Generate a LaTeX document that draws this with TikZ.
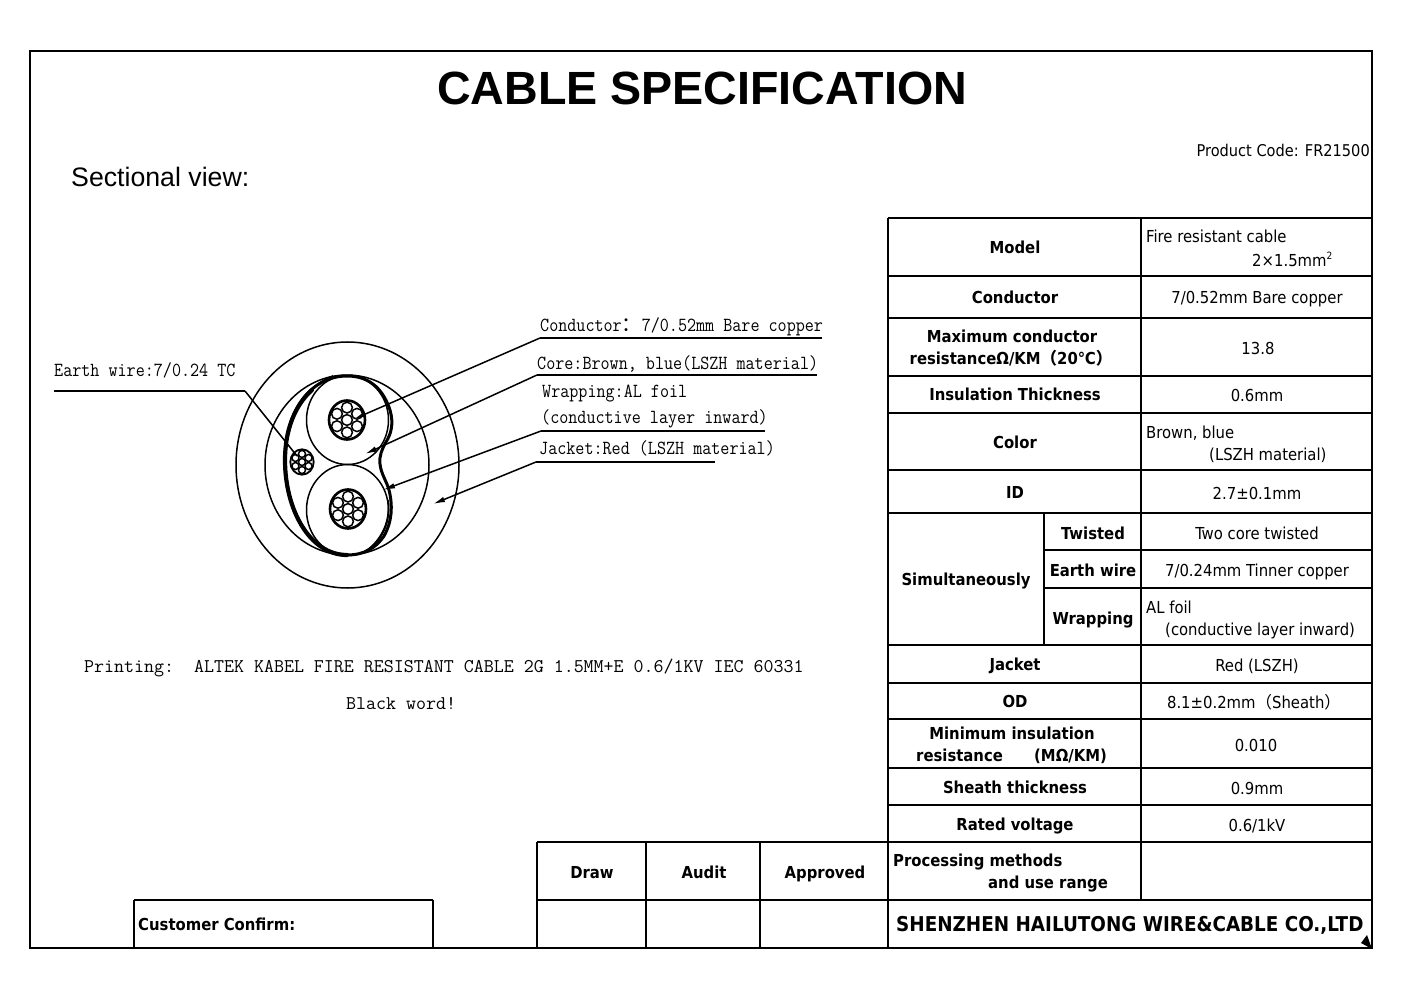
\documentclass[tikz,border=0pt]{standalone}
\usepackage{fontspec}
\usetikzlibrary{arrows.meta}
\setmainfont{DejaVu Sans Condensed}
\newfontfamily\headfont{Liberation Sans}
\newfontfamily\labfont[FakeStretch=0.88]{Latin Modern Mono}
\newfontfamily\prtfont{Latin Modern Mono}
\newfontfamily\cjk{Noto Sans CJK SC}
\tikzset{
  x=1pt,y=-1pt,
  frame/.style={line width=2.8pt},
  rule/.style={line width=2.7pt},
  wire/.style={line width=1.5pt},
  wrapline/.style={line width=3pt,line join=round},
  leader/.style={line width=1.5pt,-{Latex[length=12pt,width=5.5pt]}},
  underl/.style={line width=1.7pt},
  tb/.style={inner sep=0pt,text height=12pt,text depth=0pt,font=\fontsize{16.5}{18}\selectfont\bfseries,anchor=center},
  tn/.style={inner sep=0pt,text height=12pt,text depth=0pt,font=\fontsize{16.5}{18}\selectfont,anchor=center},
  tnl/.style={tn,anchor=west},
  tbl/.style={tb,anchor=west},
  lab/.style={inner sep=0pt,anchor=base west,font=\labfont\fontsize{20}{22}\selectfont},
  prt/.style={inner sep=0pt,anchor=base west,font=\prtfont\fontsize{19.4}{22}\selectfont},
}
\newcommand{\strands}[3]{% cx, cy, scale
  \draw[line width={2.2pt*#3+0.4pt}] (#1,#2) ellipse ({18*#3} and {19.5*#3});
  \draw[line width=1.5pt] (#1,#2) circle ({5.4*#3});
  \foreach \a in {0,60,...,300}{
    \draw[line width=1.5pt] ({#1+11.6*#3*sin(\a)},{#2-12.4*#3*cos(\a)}) circle ({5.4*#3});
  }
}
\begin{document}
\begin{tikzpicture}
\useasboundingbox (0,0) rectangle (1403,992);
\fill[white] (0,0) rectangle (1403,992);
% outer frame
\draw[frame] (30,948) -- (30,51) -- (1372,51) -- (1372,948) -- cycle;
% heading
\node[inner sep=0pt,font=\headfont\fontsize{46.6}{50}\selectfont\bfseries] (title) at (702,88) {CABLE SPECIFICATION};
\node[inner sep=0pt,anchor=west,font=\headfont\fontsize{26.7}{29}\selectfont] (secview) at (71,177) {Sectional view:};
\node[inner sep=0pt,anchor=east,font=\fontsize{16.2}{18}\selectfont] (pcode) at (1370,150) {Product Code: FR21500};
% table rules
\foreach \y in {218,276,318,376,413,470,513,645,683,719,768,805,842,900}{\draw[rule] (888,\y) -- (1372,\y);}
\foreach \y in {550,588}{\draw[rule] (1044,\y) -- (1372,\y);}
\draw[rule] (888,218) -- (888,948);
\draw[rule] (1141,218) -- (1141,900);
\draw[rule] (1044,513) -- (1044,645);
\draw[rule] (537,842) -- (888,842);
\draw[rule] (537,900) -- (888,900);
\draw[rule] (537,842) -- (537,948);
\draw[rule] (646,842) -- (646,948);
\draw[rule] (760,842) -- (760,948);
\draw[rule] (134,900) -- (433,900);
\draw[rule] (134,900) -- (134,948);
\draw[rule] (433,900) -- (433,948);
\fill (1372,949) -- (1361,943) -- (1367,935) -- cycle;
% table text
\node[tb] (m1) at (1015,248) {Model};
\node[tnl] (m2) at (1146,237) {Fire resistant cable};
\node[tnl] (m3) at (1252,261) {2×1.5mm\raisebox{0.45em}{\fontsize{10}{10}\selectfont 2}};
\node[tb] (c1) at (1015,298) {Conductor};
\node[tn] (c2) at (1257,298) {7/0.52mm Bare copper};
\node[tb] (r1) at (1012,336) {Maximum conductor};
\node[tb] (r2) at (1011,358) {resistanceΩ/KM{\cjk （}20℃{\cjk ）}};
\node[tn] (r3) at (1258,348) {13.8};
\node[tb] (i1) at (1015,394) {Insulation Thickness};
\node[tn] (i2) at (1257,395) {0.6mm};
\node[tb] (o1) at (1015,442) {Color};
\node[tnl] (o2) at (1146,432) {Brown, blue};
\node[tnl] (o3) at (1209,454) {(LSZH material)};
\node[tb] (d1) at (1015,492) {ID};
\node[tn] (d2) at (1257,493) {2.7±0.1mm};
\node[tb] (s0) at (966,579) {Simultaneously};
\node[tb] (s1) at (1093,533) {Twisted};
\node[tn] (s2) at (1257,533) {Two core twisted};
\node[tb] (s3) at (1093,570) {Earth wire};
\node[tn] (s4) at (1257,570) {7/0.24mm Tinner copper};
\node[tb] (s5) at (1093,618) {Wrapping};
\node[tnl] (s6) at (1146,607) {AL foil};
\node[tnl] (s7) at (1165,629) {(conductive layer inward)};
\node[tb] (j1) at (1015,664) {Jacket};
\node[tn] (j2) at (1257,665) {Red (LSZH)};
\node[tb] (od1) at (1015,701) {OD};
\node[tn] (od2) at (1254,702) {8.1±0.2mm{\cjk （}Sheath{\cjk ）}};
\node[tb] (n1) at (1012,733) {Minimum insulation};
\node[tbl] (n2) at (916,755) {resistance};
\node[tbl] (n3) at (1034,755) {(MΩ/KM)};
\node[tn] (n4) at (1256,745) {0.010};
\node[tb] (h1) at (1015,787) {Sheath thickness};
\node[tn] (h2) at (1257,788) {0.9mm};
\node[tb] (v1) at (1015,824) {Rated voltage};
\node[tn] (v2) at (1257,825) {0.6/1kV};
\node[tbl] (p1) at (893,860) {Processing methods};
\node[tbl] (p2) at (988,882) {and use range};
\node[tb] (b1) at (592,872) {Draw};
\node[tb] (b2) at (704,872) {Audit};
\node[tb] (b3) at (825,872) {Approved};
\node[tbl] (cc) at (138,924) {Customer Confirm:};
\node[tbl,font=\fontsize{20.4}{22}\selectfont\bfseries,text height=15pt] (co) at (896,924) {SHENZHEN HAILUTONG WIRE\&CABLE CO.,LTD};
% cable section
\draw[wire] (347.5,465) ellipse (111.5 and 123);
\draw[wire] (347,465) ellipse (82 and 90);
\draw[wire] (347.5,420) ellipse (41 and 44.5);
\draw[wire] (347.5,510) ellipse (41 and 45.5);
\strands{347}{420}{1}
\strands{348}{509}{1}
\strands{302}{462}{0.65}
\draw[wrapline] (347,376) .. controls (372,376) and (384,392) .. (390,410)
  .. controls (394,424) and (391,434) .. (386,442)
  .. controls (382,449) and (379,456) .. (380,464)
  .. controls (381,474) and (387,482) .. (389,490)
  .. controls (393,506) and (392,522) .. (384,536)
  .. controls (376,548) and (364,555) .. (347,555)
  .. controls (310,555) and (285,510) .. (285,460)
  .. controls (285,412) and (310,376) .. (347,376) -- cycle;
% thicker left side of the foil
\draw[line width=4.2pt,line cap=round] (347,555) .. controls (310,555) and (285,510) .. (285,460) .. controls (285,430) and (295,405) .. (312,390);
\draw[line width=1.8pt] (333,376) .. controls (312,384) and (295,405) .. (289,432);
\draw[line width=1.8pt] (388,500) .. controls (391,520) and (382,540) .. (366,551);
% labels and leaders
\node[lab] (lcond) at (540,331) {Conductor{\cjk ：}7/0.52mm Bare copper};
\node[lab] (lcore) at (537,369) {Core:Brown, blue(LSZH material)};
\node[lab] (lwr1) at (542,397) {Wrapping:AL foil};
\node[lab] (lwr2) at (541,423) {(conductive layer inward)};
\node[lab] (ljac) at (539,454) {Jacket:Red (LSZH material)};
\node[lab] (lear) at (54,376) {Earth wire:7/0.24 TC};
\node[prt] (lprt) at (84,672) {Printing:\ \ ALTEK KABEL FIRE RESISTANT CABLE 2G 1.5MM+E 0.6/1KV IEC 60331};
\node[prt] (lblk) at (346,709) {Black word!};
\coordinate (ce) at (822,338); \coordinate (cb) at (540,338); \coordinate (ct) at (354,419);
\coordinate (re) at (817,375); \coordinate (rb) at (537,375); \coordinate (rt) at (365,454);
\coordinate (we) at (765,431); \coordinate (wb) at (541,431); \coordinate (wt) at (383,490);
\coordinate (je) at (715,462); \coordinate (jb) at (536,462); \coordinate (jt) at (433,504);
\coordinate (ee) at (54,391); \coordinate (eb) at (245,391); \coordinate (et) at (297,456);
\draw[underl] (ce) -- (cb); \draw[leader] (cb) -- (ct);
\draw[underl] (re) -- (rb); \draw[leader] (rb) -- (rt);
\draw[underl] (we) -- (wb); \draw[leader] (wb) -- (wt);
\draw[underl] (je) -- (jb); \draw[leader] (jb) -- (jt);
\draw[line width=2.8pt] (ee) -- (eb);
\draw[wire] (eb) -- (et);
\end{tikzpicture}
\end{document}
